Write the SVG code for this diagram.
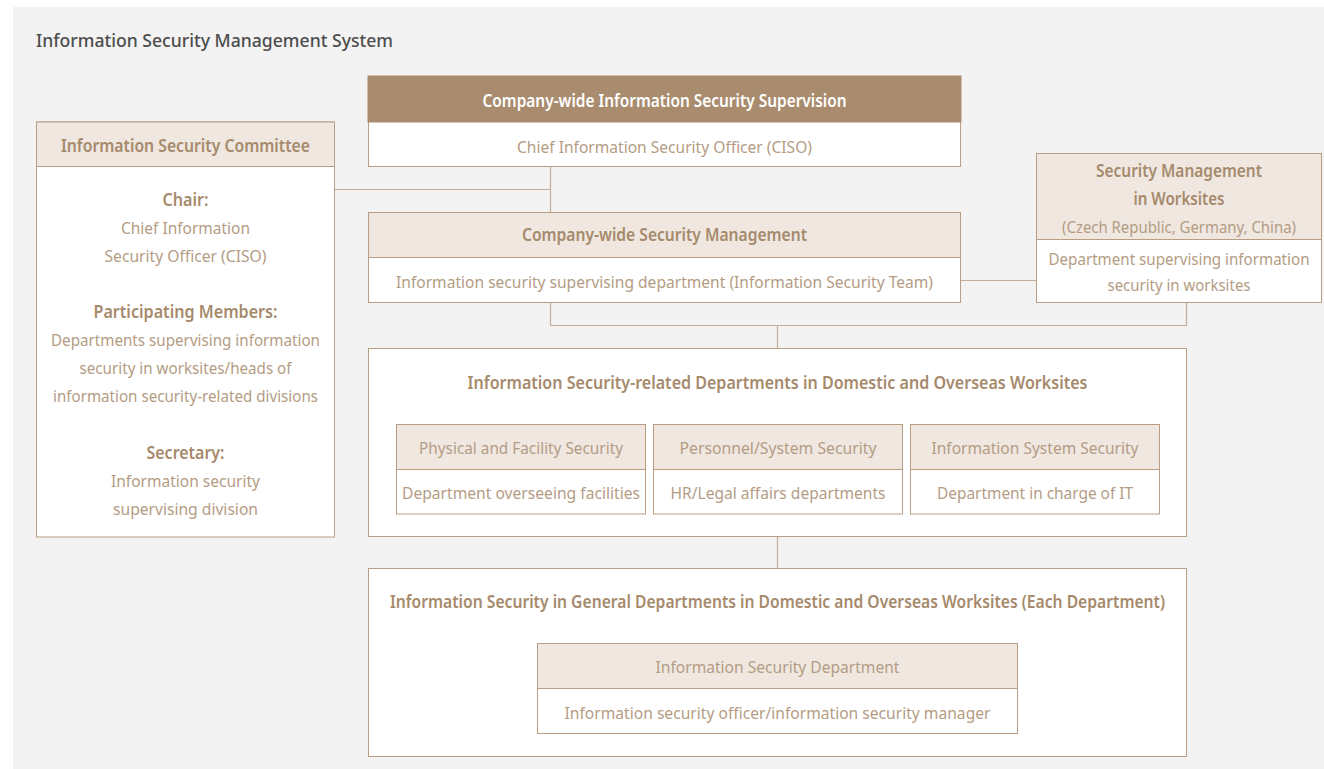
<svg xmlns="http://www.w3.org/2000/svg" width="1324" height="769" viewBox="0 0 1324 769">
<style>
.box{fill:#ffffff;stroke:#b99e84;stroke-width:1}
.hd{fill:#efe7e0;stroke:#b99e84;stroke-width:1}
.dk{fill:#a98c6e;stroke:#a98c6e;stroke-width:1}
.ln{fill:none;stroke:#c4ae99;stroke-width:1.2}
text{font-family:"Noto Sans","Liberation Sans",sans-serif;font-size:17px;text-anchor:middle}
.b{font-weight:600;fill:#a68a6c}
.r{fill:#b49c84}
.s{font-size:16px}
.w{font-weight:600;fill:#ffffff}
.t{font-size:18px;fill:#4d4d4d;text-anchor:start;font-weight:500}
</style>
<rect x="13" y="7" width="1311" height="762" fill="#f3f3f3"/>
<text class="t" x="36" y="47" textLength="357" lengthAdjust="spacingAndGlyphs">Information Security Management System</text>

<g id="connectors">
<path class="ln" d="M334.5 189.5H550.5M550.5 166.5V212.5M960.5 280.5H1036.5M550.5 302.5V325.5H1186.5V302.5M777.5 325.5V348.5M777.5 536.5V568.5"/>
</g>

<g id="committee">
<rect class="box" x="36.5" y="122" width="298" height="415"/>
<rect class="hd" x="36.5" y="122" width="298" height="44.5"/>
<text class="b" x="185.5" y="152" textLength="249" lengthAdjust="spacingAndGlyphs">Information Security Committee</text>
<text class="b" x="185.5" y="206" textLength="46" lengthAdjust="spacingAndGlyphs">Chair:</text>
<text class="r" x="185.5" y="234" textLength="129" lengthAdjust="spacingAndGlyphs">Chief Information</text>
<text class="r" x="185.5" y="262" textLength="162" lengthAdjust="spacingAndGlyphs">Security Officer (CISO)</text>
<text class="b" x="185.5" y="318" textLength="184" lengthAdjust="spacingAndGlyphs">Participating Members:</text>
<text class="r" x="185.5" y="346" textLength="269" lengthAdjust="spacingAndGlyphs">Departments supervising information</text>
<text class="r" x="185.5" y="374" textLength="212" lengthAdjust="spacingAndGlyphs">security in worksites/heads of</text>
<text class="r" x="185.5" y="402" textLength="265" lengthAdjust="spacingAndGlyphs">information security-related divisions</text>
<text class="b" x="185.5" y="459" textLength="78" lengthAdjust="spacingAndGlyphs">Secretary:</text>
<text class="r" x="185.5" y="487" textLength="149" lengthAdjust="spacingAndGlyphs">Information security</text>
<text class="r" x="185.5" y="515" textLength="145" lengthAdjust="spacingAndGlyphs">supervising division</text>
</g>

<g id="supervision">
<rect class="box" x="368.5" y="76.5" width="592" height="90" stroke="#cdbba9"/>
<rect class="dk" x="368" y="76" width="593" height="46"/>
<text class="w" x="664.5" y="107" textLength="364" lengthAdjust="spacingAndGlyphs">Company-wide Information Security Supervision</text>
<text class="r" x="664.5" y="153" textLength="295" lengthAdjust="spacingAndGlyphs">Chief Information Security Officer (CISO)</text>
</g>

<g id="management">
<rect class="box" x="368.5" y="212.5" width="592" height="90"/>
<rect class="hd" x="368.5" y="212.5" width="592" height="45"/>
<text class="b" x="664.5" y="241" textLength="285" lengthAdjust="spacingAndGlyphs">Company-wide Security Management</text>
<text class="r" x="664.5" y="288" textLength="537" lengthAdjust="spacingAndGlyphs">Information security supervising department (Information Security Team)</text>
</g>

<g id="worksites">
<rect class="box" x="1036.5" y="153.5" width="285" height="149"/>
<rect class="hd" x="1036.5" y="153.5" width="285" height="86"/>
<text class="b" x="1179" y="177" textLength="166" lengthAdjust="spacingAndGlyphs">Security Management</text>
<text class="b" x="1179" y="205" textLength="91" lengthAdjust="spacingAndGlyphs">in Worksites</text>
<text class="r s" x="1179" y="233" textLength="234" lengthAdjust="spacingAndGlyphs">(Czech Republic, Germany, China)</text>
<text class="r s" x="1179" y="265" textLength="261" lengthAdjust="spacingAndGlyphs">Department supervising information</text>
<text class="r" x="1179" y="291" textLength="143" lengthAdjust="spacingAndGlyphs">security in worksites</text>
</g>

<g id="related-departments">
<rect class="box" x="368.5" y="348.5" width="818" height="188"/>
<text class="b" x="777.5" y="389" textLength="620" lengthAdjust="spacingAndGlyphs">Information Security-related Departments in Domestic and Overseas Worksites</text>
</g>

<g id="physical">
<rect class="box" x="396.5" y="424.5" width="249" height="89.5"/>
<rect class="hd" x="396.5" y="424.5" width="249" height="45"/>
<text class="r" x="521" y="454" textLength="204" lengthAdjust="spacingAndGlyphs">Physical and Facility Security</text>
<text class="r" x="521" y="499" textLength="238" lengthAdjust="spacingAndGlyphs">Department overseeing facilities</text>
</g>

<g id="personnel">
<rect class="box" x="653.5" y="424.5" width="249" height="89.5"/>
<rect class="hd" x="653.5" y="424.5" width="249" height="45"/>
<text class="r" x="778" y="454" textLength="197" lengthAdjust="spacingAndGlyphs">Personnel/System Security</text>
<text class="r" x="778" y="499" textLength="215" lengthAdjust="spacingAndGlyphs">HR/Legal affairs departments</text>
</g>

<g id="infosystem">
<rect class="box" x="910.5" y="424.5" width="249" height="89.5"/>
<rect class="hd" x="910.5" y="424.5" width="249" height="45"/>
<text class="r" x="1035" y="454" textLength="207" lengthAdjust="spacingAndGlyphs">Information System Security</text>
<text class="r" x="1035" y="499" textLength="196" lengthAdjust="spacingAndGlyphs">Department in charge of IT</text>
</g>

<g id="general-departments">
<rect class="box" x="368.5" y="568.5" width="818" height="188"/>
<text class="b" x="777.5" y="608" textLength="775" lengthAdjust="spacingAndGlyphs">Information Security in General Departments in Domestic and Overseas Worksites (Each Department)</text>
</g>

<g id="infosec-department">
<rect class="box" x="537.5" y="643.5" width="480" height="90"/>
<rect class="hd" x="537.5" y="643.5" width="480" height="45"/>
<text class="r" x="777.5" y="673" textLength="244" lengthAdjust="spacingAndGlyphs">Information Security Department</text>
<text class="r" x="777.5" y="719" textLength="426" lengthAdjust="spacingAndGlyphs">Information security officer/information security manager</text>
</g>
</svg>
